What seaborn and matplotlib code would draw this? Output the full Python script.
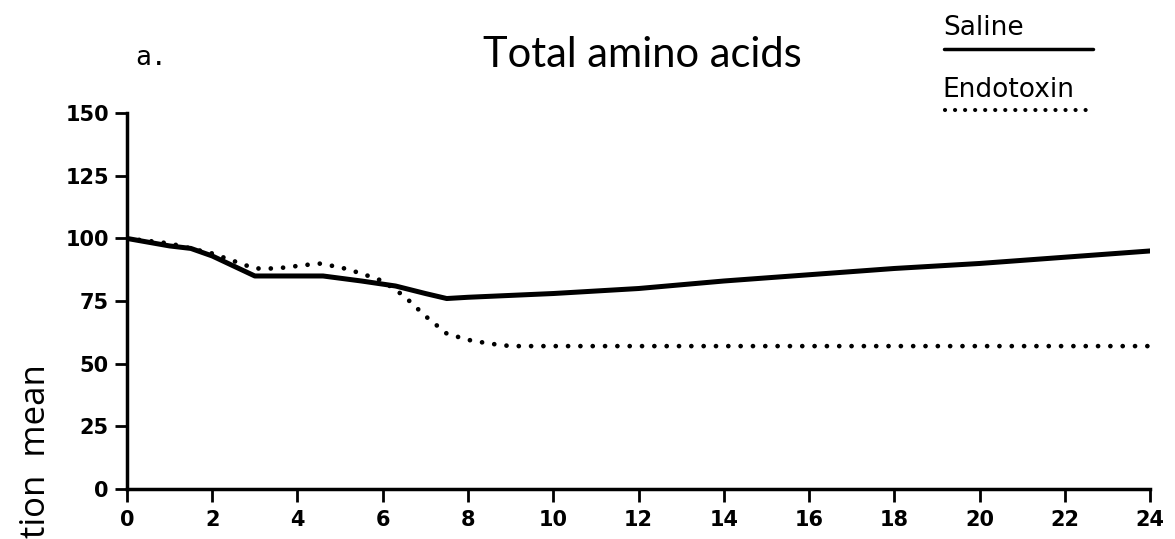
import numpy as np
import pandas as pd
import matplotlib
matplotlib.use("Agg")
import matplotlib.pyplot as plt
import seaborn as sns

# data (hours vs % of baseline)
saline_hours = [0, 1, 1.5, 2, 3, 4, 4.6, 5.5, 6.3, 7, 7.5, 8, 10, 12, 14, 16, 18, 20, 22, 24]
saline_values = [100, 97, 96, 93, 85, 85, 85, 83, 81, 78, 76, 76.5, 78, 80, 83, 85.5, 88, 90, 92.5, 95]

endo_hours = [0, 1, 2, 3, 3.5, 4.5, 5, 5.5, 6, 6.5, 7, 7.5, 8, 8.5, 9, 10, 12, 16, 20, 24]
endo_values = [100, 98, 94, 88, 88, 90, 88.5, 86, 83, 77, 69, 62, 59.5, 58, 57, 57, 57, 57, 57, 57]

x_ticks = [0, 2, 4, 6, 8, 10, 12, 14, 16, 18, 20, 22, 24]
y_ticks = [0, 25, 50, 75, 100, 125, 150]

sal_df = pd.DataFrame({"hours": saline_hours, "value": saline_values})
endo_df = pd.DataFrame({"hours": endo_hours, "value": endo_values})

sns.set_theme(style="ticks")
plt.rcParams["font.family"] = ["DejaVu Sans"]
plt.rcParams["text.color"] = "black"

fig = plt.figure(figsize=(11.75, 5.39), dpi=100)
ax = fig.add_axes([0.108, 0.093, 0.871, 0.697])

sns.lineplot(data=sal_df, x="hours", y="value", ax=ax, color="black", lw=3.6)
sns.lineplot(data=endo_df, x="hours", y="value", ax=ax, color="black", lw=3.4,
             linestyle=(0, (0.01, 2.6)), dash_capstyle="round")

ax.set_xlim(0, 24)
ax.set_ylim(0, 150)
ax.set_xticks(x_ticks)
ax.set_yticks(y_ticks)
ax.set_xlabel("")
ax.set_ylabel("")
for lab in ax.get_xticklabels() + ax.get_yticklabels():
    lab.set_fontweight("bold")
ax.tick_params(axis="both", length=9, width=2, labelsize=15, color="black", labelcolor="black")
ax.tick_params(axis="x", pad=6)
ax.tick_params(axis="y", pad=4)
sns.despine(ax=ax)
for s in ["left", "bottom"]:
    ax.spines[s].set_linewidth(2.5)
    ax.spines[s].set_color("black")

fig.text(0.547, 0.898, "Total amino acids", ha="center", va="center",
         fontsize=30, color="black", family=["Lato", "DejaVu Sans"])
fig.text(0.115, 0.893, "a.", ha="left", va="center", fontsize=19,
         color="black", family=["DejaVu Sans Mono"])
fig.text(0.016, 0.002, "tion  mean", rotation=90, ha="left", va="bottom",
         fontsize=25, color="black", family=["Open Sans", "DejaVu Sans"])

# legend drawn as labels with sample lines
fig.text(0.803, 0.948, "Saline", ha="left", va="center", fontsize=19,
         color="black", family=["DejaVu Sans"])
fig.text(0.802, 0.833, "Endotoxin", ha="left", va="center", fontsize=19,
         color="black", family=["DejaVu Sans"])
fig.add_artist(plt.Line2D([0.803, 0.930], [0.909, 0.909], color="black", lw=2.5,
                          transform=fig.transFigure))
fig.add_artist(plt.Line2D([0.804, 0.932], [0.796, 0.796], color="black", lw=3,
                          linestyle=(0, (0.01, 2.4)), dash_capstyle="round",
                          transform=fig.transFigure))

fig.savefig("out.png", dpi=100)
